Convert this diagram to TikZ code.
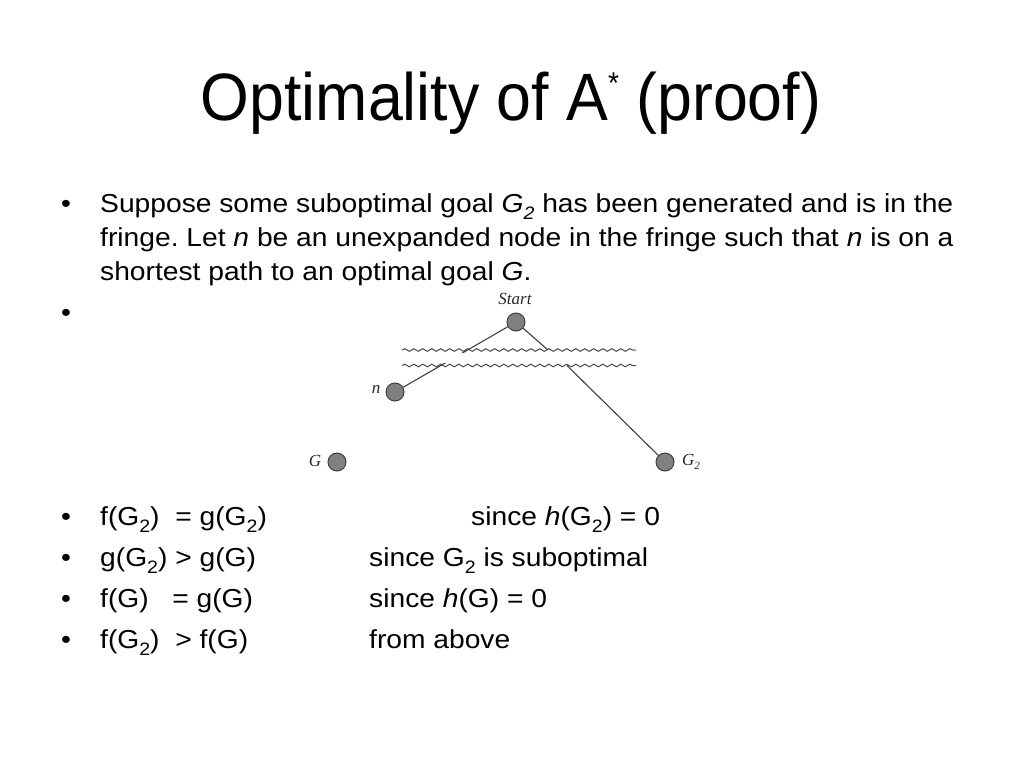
\documentclass[tikz,border=0pt]{standalone}
\usepackage{fontspec}
\setmainfont{Liberation Sans}
\newfontfamily\bodyfont[FakeStretch=1.085]{Liberation Sans}
\newfontfamily\titlefont[FakeStretch=0.935]{Liberation Sans}
\newfontfamily\labfont{Liberation Serif}
\usetikzlibrary{decorations.pathmorphing}
\newcommand\mysub[1]{\raisebox{-0.3em}{\fontsize{18}{18}\selectfont #1}}
\frenchspacing
\begin{document}
\begin{tikzpicture}[x=1pt,y=-1pt,
  txt/.style={anchor=base west, inner sep=0pt, font=\bodyfont\fontsize{26}{31}\selectfont},
  bul/.style={anchor=base, inner sep=0pt, font=\bodyfont\fontsize{26}{31}\selectfont},
  dot/.style={circle, draw=black!75, fill=black!50, minimum size=18pt, inner sep=0pt, line width=1pt},
  lab/.style={inner sep=0pt, font=\labfont\itshape\fontsize{17}{20}\selectfont, text=black!85},
  edge/.style={draw=black!75, line width=1.1pt},
  wave/.style={draw=black!70, line width=1pt, decorate, decoration={snake, segment length=9pt, amplitude=1.3pt}}]
\useasboundingbox[fill=white] (0,0) rectangle (1024,768);
% title
\node[anchor=base, inner sep=0pt, font=\titlefont\fontsize{67}{80}\selectfont] (title) at (511,120) {Optimality of A\raisebox{0.4em}{\fontsize{30}{30}\selectfont *} (proof)};
% paragraph
\node[bul] (b1) at (66,212) {\textbullet};
\node[txt] (l1) at (100,212) {Suppose some suboptimal goal \textit{G\mysub{2}} has been generated and is in the};
\node[txt] (l2) at (100,246) {fringe. Let \textit{n} be an unexpanded node in the fringe such that \textit{n} is on a};
\node[txt] (l3) at (100,280) {shortest path to an optimal goal \textit{G}.};
\node[bul] (b2) at (66,321) {\textbullet};
% diagram
\node[dot] (start) at (516,322) {};
\node[dot] (n) at (395,392) {};
\node[dot] (g) at (337,462) {};
\node[dot] (g2) at (665,462) {};
\node[lab] (startl) at (515,299) {Start};
\node[lab] (nl) at (376,389) {n};
\node[lab] (gl) at (315,461) {G};
\node[lab] (g2l) at (691,462) {G\raisebox{-0.25em}{\fontsize{11}{11}\selectfont 2}};
\coordinate (a) at (548,350);
\coordinate (b) at (567,365.5);
\draw[edge] (start) -- (n);
\draw[edge] (start) -- (a);
\draw[edge] (b) -- (g2);
\fill[white] (398,352.5) rectangle (638,363);
\coordinate (w1a) at (402,350);
\coordinate (w1b) at (636,350);
\coordinate (w2a) at (402,365.5);
\coordinate (w2b) at (636,365.5);
\draw[wave] (w1a) -- (w1b);
\draw[wave] (w2a) -- (w2b);
% bottom bullets
\node[bul] (b3) at (66,525) {\textbullet};
\node[bul] (b4) at (66,566) {\textbullet};
\node[bul] (b5) at (66,607) {\textbullet};
\node[bul] (b6) at (66,648) {\textbullet};
\node[txt] (f1) at (100,525) {f(G\mysub{2})\ \ = g(G\mysub{2})};
\node[txt] (s1) at (471,525) {since \textit{h}(G\mysub{2}) = 0};
\node[txt] (f2) at (100,566) {g(G\mysub{2}) > g(G)};
\node[txt] (s2) at (369,566) {since G\mysub{2} is suboptimal};
\node[txt] (f3) at (100,607) {f(G)\ \ \ = g(G)};
\node[txt] (s3) at (369,607) {since \textit{h}(G) = 0};
\node[txt] (f4) at (100,648) {f(G\mysub{2})\ \ > f(G)};
\node[txt] (s4) at (369,648) {from above};
\end{tikzpicture}
\end{document}
